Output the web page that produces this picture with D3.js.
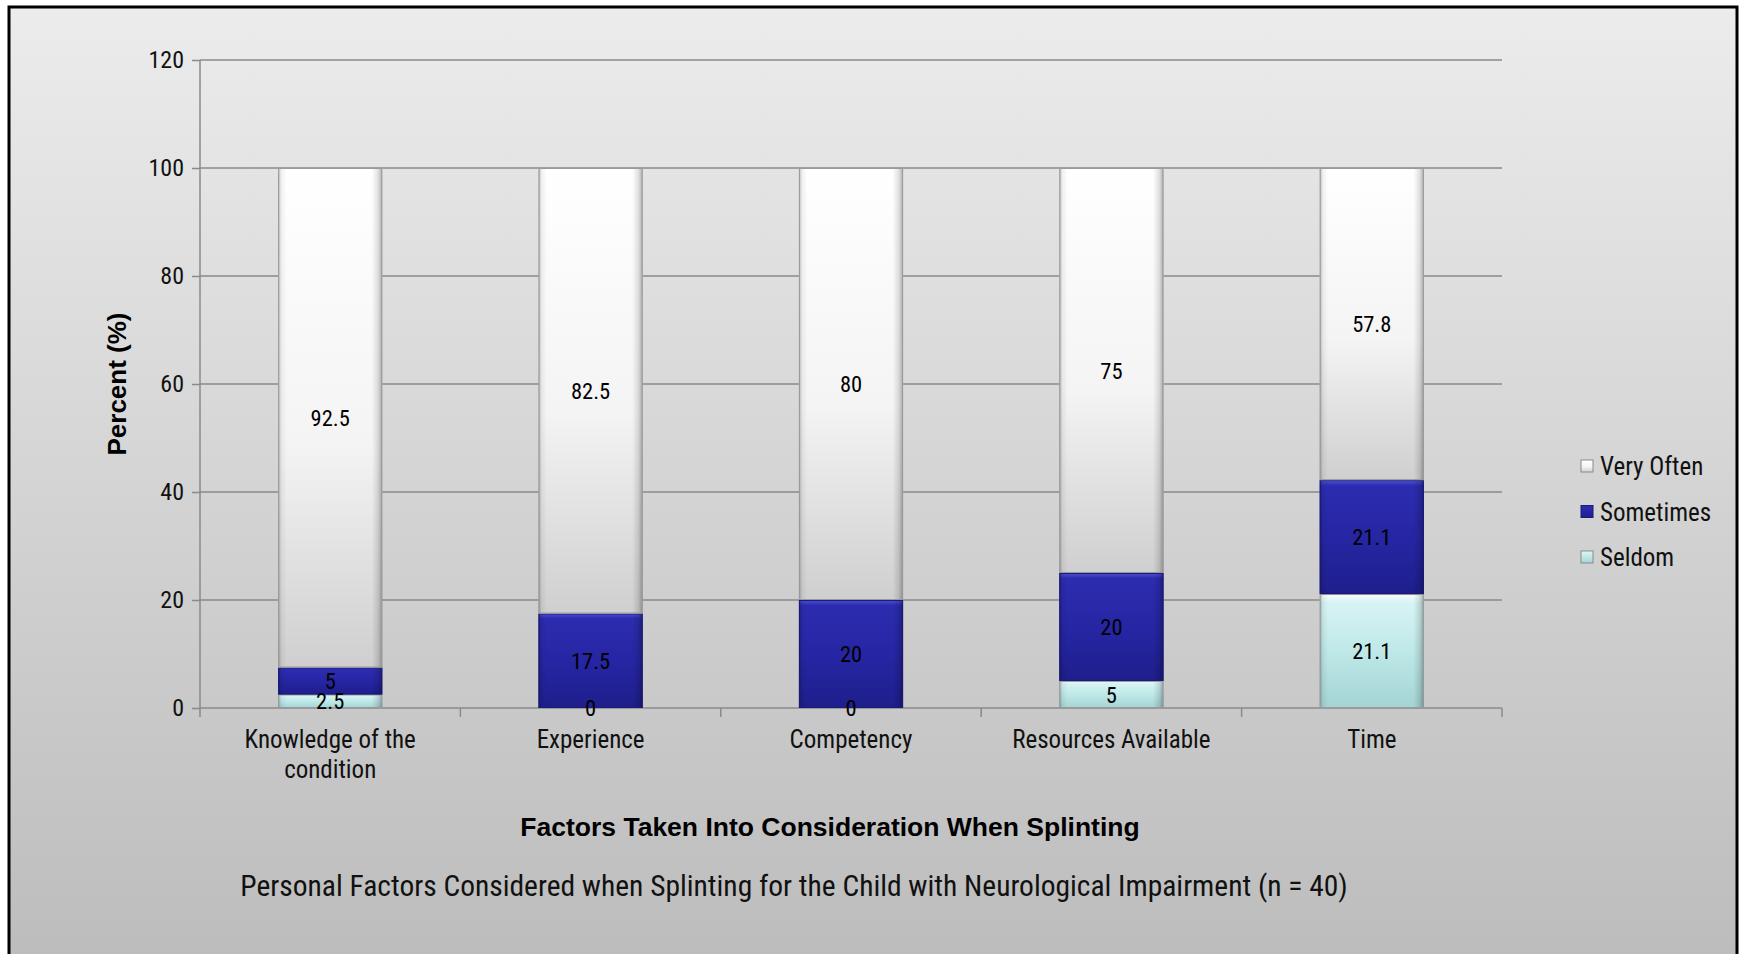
<!DOCTYPE html>
<html>
<head>
<meta charset="utf-8">
<script src="https://cdn.jsdelivr.net/npm/d3@7"></script>
<style>
  html, body { margin: 0; padding: 0; background: #ffffff; }
  svg { display: block; }
  .narrow { font-family: "Liberation Sans Narrow", "Arial Narrow", "Roboto Condensed", "Liberation Sans", sans-serif; }
  .bold { font-family: "Liberation Sans", Arial, sans-serif; font-weight: bold; }
</style>
</head>
<body>
<script>
// ---- data ----
const categories = ["Knowledge of the condition", "Experience", "Competency", "Resources Available", "Time"];
const seriesNames = ["Seldom", "Sometimes", "Very Often"];
const seldom = [2.5, 0, 0, 5, 21.1];
const sometimes = [5, 17.5, 20, 20, 21.1];
const veryOften = [92.5, 82.5, 80, 75, 57.8];
const yTicks = [0, 20, 40, 60, 80, 100, 120];
const legendOrder = ["Very Often", "Sometimes", "Seldom"];

const W = 1741, H = 954;
const svg = d3.select("body").append("svg").attr("width", W).attr("height", H);
const defs = svg.append("defs");

// background gradient
const bg = defs.append("linearGradient").attr("id", "bg").attr("x1", 0).attr("y1", 0).attr("x2", 0).attr("y2", 1);
bg.append("stop").attr("offset", "0%").attr("stop-color", "#ececec");
bg.append("stop").attr("offset", "100%").attr("stop-color", "#bcbcbc");

svg.append("rect").attr("x", 9).attr("y", 7).attr("width", 1728).attr("height", 960)
  .attr("fill", "url(#bg)").attr("stroke", "#000").attr("stroke-width", 3);

// series gradients
function vgrad(id, stops) {
  const g = defs.append("linearGradient").attr("id", id).attr("x1", 0).attr("y1", 0).attr("x2", 0).attr("y2", 1);
  stops.forEach(s => g.append("stop").attr("offset", s[0]).attr("stop-color", s[1]));
}
vgrad("g-vo", [["0%", "#ffffff"], ["55%", "#f4f4f4"], ["100%", "#cfcfcf"]]);
vgrad("g-so", [["0%", "#5050d8"], ["5%", "#2c2cb0"], ["50%", "#2626a4"], ["100%", "#1e1e8c"]]);
vgrad("g-se", [["0%", "#ffffff"], ["7%", "#d8f4f4"], ["50%", "#bfe8e8"], ["100%", "#a4d4d4"]]);
const hg = defs.append("linearGradient").attr("id", "edge").attr("x1", 0).attr("y1", 0).attr("x2", 1).attr("y2", 0);
[["0%", "rgba(0,0,0,0.28)"], ["3%", "rgba(0,0,0,0.06)"], ["8%", "rgba(0,0,0,0)"], ["90%", "rgba(0,0,0,0)"], ["96%", "rgba(0,0,0,0.12)"], ["100%", "rgba(0,0,0,0.32)"]]
  .forEach(s => hg.append("stop").attr("offset", s[0]).attr("stop-color", s[1]));
const fills = { "Seldom": "url(#g-se)", "Sometimes": "url(#g-so)", "Very Often": "url(#g-vo)" };
const legendFill = fills;

// ---- scales ----
const x0 = 200, x1 = 1502, yTop = 60, yBot = 708;
const x = d3.scaleBand().domain(categories).range([x0, x1]).paddingInner(0.6).paddingOuter(0.3);
const y = d3.scaleLinear().domain([0, 120]).range([yBot, yTop]);

// gridlines
const g = svg.append("g");
g.selectAll("line.grid").data(yTicks.filter(t => t > 0)).enter().append("line")
  .attr("x1", x0).attr("x2", x1).attr("y1", d => y(d)).attr("y2", d => y(d))
  .attr("stroke", "#8a8a8a").attr("stroke-width", 1.5);

// y axis
const yAxis = d3.axisLeft(y).tickValues(yTicks).tickSize(8).tickPadding(8);
const ya = svg.append("g").attr("transform", `translate(${x0},0)`).call(yAxis);
ya.select(".domain").attr("stroke", "#8a8a8a").attr("stroke-width", 1.5).attr("d", `M0,${yTop}V${yBot}`);
ya.selectAll(".tick line").attr("stroke", "#8a8a8a").attr("stroke-width", 1.5);
ya.selectAll(".tick text").attr("class", "narrow").attr("font-size", 24).attr("fill", "#111");

// x axis
const step = x.step();
const xa = svg.append("g").attr("transform", `translate(0,${yBot})`);
xa.append("line").attr("x1", x0).attr("x2", x1).attr("y1", 0).attr("y2", 0).attr("stroke", "#8a8a8a").attr("stroke-width", 1.5);
xa.selectAll("line.tk").data(d3.range(categories.length + 1)).enter().append("line")
  .attr("x1", i => x0 + i * step).attr("x2", i => x0 + i * step).attr("y1", 0).attr("y2", 9)
  .attr("stroke", "#8a8a8a").attr("stroke-width", 1.5);

// stack
const rows = categories.map((c, i) => ({ cat: c, "Seldom": seldom[i], "Sometimes": sometimes[i], "Very Often": veryOften[i] }));
const stack = d3.stack().keys(seriesNames)(rows);

const bars = svg.append("g");
stack.forEach(layer => {
  const key = layer.key;
  layer.forEach(d => {
    const h = y(d[0]) - y(d[1]);
    if (h <= 0) return;
    const bx = x(d.data.cat), bw = x.bandwidth();
    bars.append("rect").attr("x", bx).attr("y", y(d[1])).attr("width", bw).attr("height", h)
      .attr("fill", fills[key]);
    bars.append("rect").attr("x", bx).attr("y", y(d[1])).attr("width", bw).attr("height", h)
      .attr("fill", "url(#edge)");
    bars.append("rect").attr("x", bx + 0.5).attr("y", y(d[1]) + 0.5).attr("width", bw - 1).attr("height", Math.max(0, h - 1))
      .attr("fill", "none").attr("stroke", key === "Sometimes" ? "#1a1a78" : "#9a9a9a").attr("stroke-width", 1);
  });
});

// labels
const labels = svg.append("g").attr("class", "narrow");
stack.forEach(layer => {
  layer.forEach(d => {
    const v = d.data[layer.key];
    labels.append("text")
      .attr("x", x(d.data.cat) + x.bandwidth() / 2)
      .attr("y", (y(d[0]) + y(d[1])) / 2)
      .attr("dy", "0.36em")
      .attr("text-anchor", "middle")
      .attr("font-size", 22.5)
      .attr("fill", "#000")
      .text(v);
  });
});

// category labels (wrapped)
const catLines = { "Knowledge of the condition": ["Knowledge of the", "condition"] };
const cl = svg.append("g").attr("class", "narrow");
categories.forEach(c => {
  const lines = catLines[c] || [c];
  const t = cl.append("text").attr("x", x(c) + x.bandwidth() / 2).attr("y", 748)
    .attr("text-anchor", "middle").attr("font-size", 25).attr("fill", "#111");
  lines.forEach((ln, i) => t.append("tspan").attr("x", x(c) + x.bandwidth() / 2).attr("dy", i === 0 ? 0 : 30).text(ln));
});

// axis titles
svg.append("text").attr("class", "bold").attr("transform", "translate(126,384) rotate(-90)")
  .attr("text-anchor", "middle").attr("font-size", 26).attr("fill", "#000").text("Percent (%)");
svg.append("text").attr("class", "bold").attr("x", 830).attr("y", 836)
  .attr("text-anchor", "middle").attr("font-size", 26.5).attr("fill", "#000").text("Factors Taken Into Consideration When Splinting");
svg.append("text").attr("class", "narrow").attr("x", 794).attr("y", 896)
  .attr("text-anchor", "middle").attr("font-size", 29.5).attr("fill", "#111")
  .text("Personal Factors Considered when Splinting for the Child with Neurological Impairment (n = 40)");

// legend
const lg = svg.append("g").attr("class", "narrow");
legendOrder.forEach((k, i) => {
  const ly = 466 + i * 45.5;
  lg.append("rect").attr("x", 1581).attr("y", ly - 6).attr("width", 12).attr("height", 12)
    .attr("fill", legendFill[k]).attr("stroke", k === "Sometimes" ? "#1a1a78" : "#8a8a8a").attr("stroke-width", 1);
  lg.append("text").attr("x", 1600).attr("y", ly).attr("dy", "0.36em").attr("font-size", 25).attr("fill", "#111").text(k);
});
</script>
</body>
</html>
